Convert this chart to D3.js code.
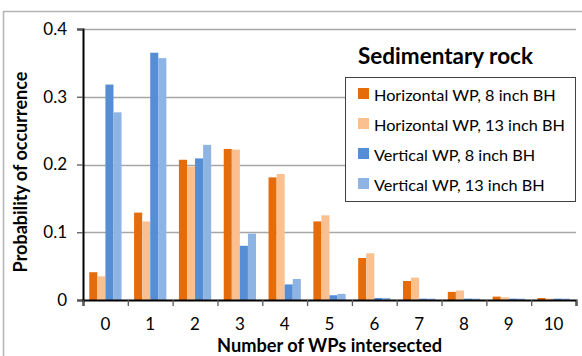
<!DOCTYPE html>
<html>
<head>
<meta charset="utf-8">
<script src="https://cdn.jsdelivr.net/npm/d3@7"></script>
<style>
  html, body { margin: 0; padding: 0; background: #fff; }
  svg { display: block; font-family: Lato, "Noto Sans", sans-serif; }
</style>
</head>
<body>
<svg id="chart" width="582" height="356"></svg>
<script>
// Number of well paths (WPs) intersected, per category
const categories = ["0", "1", "2", "3", "4", "5", "6", "7", "8", "9", "10"];
const seriesNames = [
  "Horizontal WP, 8 inch BH",
  "Horizontal WP, 13 inch BH",
  "Vertical WP, 8 inch BH",
  "Vertical WP, 13 inch BH"
];
const horiz8  = [0.041, 0.129, 0.207, 0.223, 0.181, 0.116, 0.062, 0.028, 0.012, 0.005, 0.003];
const horiz13 = [0.035, 0.116, 0.197, 0.222, 0.186, 0.125, 0.069, 0.033, 0.014, 0.004, 0.002];
const vert8   = [0.318, 0.365, 0.209, 0.080, 0.023, 0.007, 0.003, 0.002, 0.002, 0.002, 0.002];
const vert13  = [0.277, 0.357, 0.229, 0.098, 0.031, 0.009, 0.003, 0.002, 0.002, 0.002, 0.002];
const yTicks = [0, 0.1, 0.2, 0.3, 0.4];
const colors = ["#E46C0A", "#FAC090", "#558ED5", "#8EB4E3"];

const seriesValues = [horiz8, horiz13, vert8, vert13];

const svg = d3.select("#chart");
const plot = { left: 83, right: 576, top: 29, bottom: 300 };

// Outer chart frame (continues past the visible area)
svg.append("rect")
  .attr("x", 3.5).attr("y", 11.5)
  .attr("width", 700).attr("height", 500)
  .attr("fill", "none").attr("stroke", "#b4b4b4").attr("stroke-width", 1.5);

const y = d3.scaleLinear().domain([0, 0.4]).range([plot.bottom, plot.top]);
const x0 = d3.scaleBand().domain(categories).range([plot.left, plot.right]).padding(0);
const step = x0.bandwidth();
const gap = step * 0.28;
const x1 = d3.scaleBand().domain(d3.range(seriesNames.length))
  .range([gap / 2, step - gap / 2]).padding(0);

// Horizontal gridlines
svg.append("g")
  .selectAll("line")
  .data(yTicks.filter(d => d > 0))
  .join("line")
  .attr("x1", plot.left).attr("x2", plot.right)
  .attr("y1", d => Math.round(y(d)) + 0.5).attr("y2", d => Math.round(y(d)) + 0.5)
  .attr("stroke", "#a6a6a6").attr("stroke-width", 1.3);

// Bars
const groups = svg.append("g")
  .selectAll("g")
  .data(categories)
  .join("g")
  .attr("transform", d => `translate(${x0(d)},0)`);

groups.selectAll("rect")
  .data((d, i) => seriesValues.map((vals, s) => ({ s, v: vals[i] })))
  .join("rect")
  .attr("x", d => x1(d.s))
  .attr("width", x1.bandwidth())
  .attr("y", d => y(d.v))
  .attr("height", d => y(0) - y(d.v))
  .attr("fill", d => colors[d.s]);

// Y axis
const yAxis = svg.append("g")
  .attr("transform", `translate(${plot.left},0)`)
  .call(d3.axisLeft(y).tickValues(yTicks).tickFormat(d => d === 0 ? "0" : d3.format(".1f")(d))
    .tickSize(6).tickPadding(10));
yAxis.select(".domain").attr("stroke", "#000").attr("stroke-width", 2);
yAxis.selectAll(".tick line").attr("stroke", "#595959").attr("stroke-width", 1.3);
yAxis.selectAll(".tick text")
  .attr("font-family", "Lato, sans-serif").attr("font-size", 17).attr("fill", "#000");

// X axis: tick marks on category boundaries, labels centred in each slot
const xEdges = d3.scaleLinear().domain([0, categories.length]).range([plot.left, plot.right]);
const xTickAxis = svg.append("g")
  .attr("transform", `translate(0,${plot.bottom})`)
  .call(d3.axisBottom(xEdges).tickValues(d3.range(categories.length + 1)).tickFormat("").tickSize(6));
xTickAxis.select(".domain").attr("stroke", "#000").attr("stroke-width", 2);
xTickAxis.selectAll(".tick line").attr("stroke", "#595959").attr("stroke-width", 1.3);

const xLabelAxis = svg.append("g")
  .attr("transform", `translate(0,${plot.bottom})`)
  .call(d3.axisBottom(x0).tickSize(0).tickPadding(18));
xLabelAxis.select(".domain").remove();
xLabelAxis.selectAll(".tick text")
  .attr("font-family", "Lato, sans-serif").attr("font-size", 17).attr("fill", "#000");

// Size text so its rendered width equals a target width
function fitWidth(sel, target) {
  const w = sel.node().getComputedTextLength();
  const fs = parseFloat(sel.attr("font-size"));
  sel.attr("font-size", fs * target / w);
}

// Axis titles
const xTitle = svg.append("text")
  .attr("x", (plot.left + plot.right) / 2).attr("y", 352)
  .attr("text-anchor", "middle")
  .attr("font-weight", "bold").attr("font-size", 16)
  .text("Number of WPs intersected");
fitWidth(xTitle, 225);

const yTitle = svg.append("text")
  .attr("transform", "translate(27,172) rotate(-90)")
  .attr("text-anchor", "middle")
  .attr("font-weight", "bold").attr("font-size", 16)
  .text("Probability of occurrence");
fitWidth(yTitle, 201);

// Legend title
const legTitle = svg.append("text")
  .attr("x", 445.5).attr("y", 64)
  .attr("text-anchor", "middle")
  .attr("font-weight", "bold").attr("font-size", 18)
  .text("Sedimentary rock");
fitWidth(legTitle, 175);

// Legend
const legend = svg.append("g");
legend.append("rect")
  .attr("x", 345.5).attr("y", 77.5)
  .attr("width", 230).attr("height", 124)
  .attr("fill", "#fff").attr("stroke", "#404040").attr("stroke-width", 1);

const items = legend.selectAll("g.item")
  .data(seriesNames)
  .join("g")
  .attr("class", "item")
  .attr("transform", (d, i) => `translate(358,${88 + i * 30})`);
items.append("rect")
  .attr("width", 11).attr("height", 11)
  .attr("fill", (d, i) => colors[i]);
const legTexts = items.append("text")
  .attr("x", 16).attr("y", 12.5)
  .attr("font-size", 17)
  .text(d => d);
fitWidth(d3.select(legTexts.nodes()[1]), 191);
legTexts.attr("font-size", d3.select(legTexts.nodes()[1]).attr("font-size"));
</script>
</body>
</html>
